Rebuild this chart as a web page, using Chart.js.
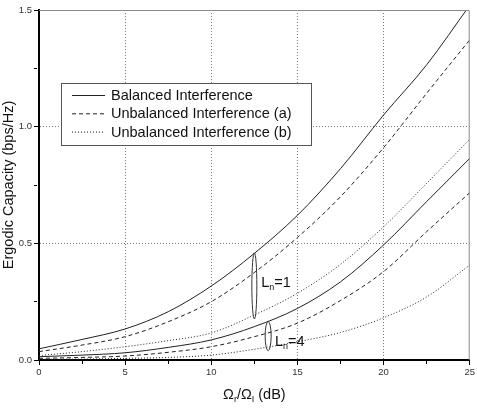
<!DOCTYPE html>
<html>
<head>
<meta charset="utf-8">
<script src="https://cdn.jsdelivr.net/npm/chart.js@4.4.1/dist/chart.umd.min.js"></script>
<style>
  html, body { margin: 0; padding: 0; background: #fff; }
  #wrap { width: 477px; height: 408px; }
</style>
</head>
<body>
<div id="wrap"><canvas id="capacityChart" width="477" height="408"></canvas></div>
<script>
// Omega_r / Omega_I in dB
const snrDb = [0, 2.5, 5, 7.5, 10, 12.5, 15, 17.5, 20, 22.5, 25];

// L_n = 1
const balancedL1   = [0.048, 0.088, 0.133, 0.207, 0.317, 0.457, 0.620, 0.820, 1.050, 1.265, 1.520];
const unbalancedAL1 = [0.036, 0.064, 0.100, 0.164, 0.250, 0.375, 0.525, 0.700, 0.910, 1.143, 1.372];
const unbalancedBL1 = [0.019, 0.036, 0.057, 0.083, 0.116, 0.193, 0.286, 0.410, 0.571, 0.757, 0.946];

// L_n = 4
const balancedL4   = [0.014, 0.021, 0.031, 0.054, 0.086, 0.143, 0.221, 0.335, 0.493, 0.679, 0.864];
const unbalancedAL4 = [0.007, 0.011, 0.017, 0.033, 0.057, 0.100, 0.158, 0.255, 0.379, 0.550, 0.717];
const unbalancedBL4 = [0.003, 0.004, 0.007, 0.011, 0.021, 0.046, 0.078, 0.118, 0.181, 0.270, 0.407];

const legendLabels = ['Balanced Interference', 'Unbalanced Interference (a)', 'Unbalanced Interference (b)'];
const xMajorStep = 5;
const yMajorStep = 0.5;

const fontFamily = 'Arial, "Liberation Sans", Helvetica, sans-serif';
const ink = '#222';
const dashes = [[], [4, 3], [1, 2]];

// brackets marking each L_n group (data units)
const groups = [
    { n: '1', x: 12.5, yLow: 0.176, yHigh: 0.459, rx: 2.5, textX: 12.9, textY: 0.331 },
    { n: '4', x: 13.3, yLow: 0.040, yHigh: 0.165, rx: 3, textX: 13.7, textY: 0.078 }
];

const toPoints = ys => ys.map((v, i) => ({ x: snrDb[i], y: v }));

function series(label, ys, style) {
    return {
        label: label,
        data: toPoints(ys),
        borderColor: ink,
        borderWidth: 1,
        borderDash: dashes[style],
        pointRadius: 0,
        fill: false,
        cubicInterpolationMode: 'monotone'
    };
}

const isMajor = (v, step) => Math.abs(v / step - Math.round(v / step)) < 1e-6;

function drawRich(ctx, parts, x, y, size, align) {
    const big = size + 'px ' + fontFamily;
    const small = Math.round(size * 0.62) + 'px ' + fontFamily;
    let w = 0;
    parts.forEach(p => { ctx.font = p.sub ? small : big; w += ctx.measureText(p.t).width; });
    let cx = align === 'center' ? x - w / 2 : x;
    ctx.textBaseline = 'middle';
    ctx.textAlign = 'left';
    parts.forEach(p => {
        ctx.font = p.sub ? small : big;
        ctx.fillText(p.t, cx, p.sub ? y + size * 0.3 : y);
        cx += ctx.measureText(p.t).width;
    });
}

const decor = {
    id: 'decor',
    afterDatasetsDraw(chart) {
        const { ctx, chartArea: a, scales: { x, y } } = chart;
        ctx.save();

        // top and right frame
        ctx.strokeStyle = '#8a8a8a';
        ctx.lineWidth = 1;
        ctx.setLineDash([]);
        ctx.beginPath();
        ctx.moveTo(a.left, a.top + 0.5);
        ctx.lineTo(a.right - 0.5, a.top + 0.5);
        ctx.lineTo(a.right - 0.5, a.bottom);
        ctx.stroke();

        // group brackets
        ctx.strokeStyle = '#333';
        ctx.fillStyle = '#111';
        groups.forEach(g => {
            const cx = x.getPixelForValue(g.x);
            const top = y.getPixelForValue(g.yHigh);
            const bot = y.getPixelForValue(g.yLow);
            ctx.beginPath();
            ctx.ellipse(cx, (top + bot) / 2, g.rx, (bot - top) / 2, 0, 0, Math.PI * 2);
            ctx.stroke();
            drawRich(ctx, [{ t: 'L' }, { t: 'n', sub: true }, { t: '=' + g.n }],
                x.getPixelForValue(g.textX), y.getPixelForValue(g.textY), 14.5, 'left');
        });

        // legend box
        const lx = a.left + 22, ly = a.top + 73, lw = 250, lh = 62;
        ctx.fillStyle = '#fff';
        ctx.fillRect(lx, ly, lw, lh);
        ctx.strokeStyle = '#555';
        ctx.strokeRect(lx + 0.5, ly + 0.5, lw, lh);
        legendLabels.forEach((lab, i) => {
            const ry = ly + 12 + i * 18.3;
            ctx.strokeStyle = ink;
            ctx.setLineDash(dashes[i]);
            ctx.beginPath();
            ctx.moveTo(lx + 11, ry + 0.5);
            ctx.lineTo(lx + 44, ry + 0.5);
            ctx.stroke();
            ctx.setLineDash([]);
            ctx.fillStyle = '#111';
            ctx.font = '14.5px ' + fontFamily;
            ctx.textAlign = 'left';
            ctx.textBaseline = 'middle';
            ctx.fillText(lab, lx + 50, ry + 1);
        });
        ctx.restore();
    },
    afterDraw(chart) {
        const { ctx, chartArea: a } = chart;
        ctx.save();
        ctx.fillStyle = '#111';
        drawRich(ctx, [{ t: 'Ω' }, { t: 'r', sub: true }, { t: '/Ω' }, { t: 'I', sub: true }, { t: ' (dB)' }],
            (a.left + a.right) / 2, 395, 14.5, 'center');
        ctx.restore();
    }
};

new Chart(document.getElementById('capacityChart').getContext('2d'), {
    type: 'line',
    data: {
        datasets: [
            series(legendLabels[0], balancedL1, 0),
            series(legendLabels[1], unbalancedAL1, 1),
            series(legendLabels[2], unbalancedBL1, 2),
            series(legendLabels[0], balancedL4, 0),
            series(legendLabels[1], unbalancedAL4, 1),
            series(legendLabels[2], unbalancedBL4, 2)
        ]
    },
    options: {
        responsive: false,
        animation: false,
        devicePixelRatio: 1,
        layout: { padding: { top: 10, right: 6, left: 0, bottom: 0 } },
        plugins: {
            legend: { display: false },
            tooltip: { enabled: false }
        },
        scales: {
            x: {
                type: 'linear',
                min: 0,
                max: 25,
                afterFit: s => { s.height = 48; },
                ticks: {
                    stepSize: 2.5,
                    autoSkip: false,
                    maxRotation: 0,
                    padding: 2,
                    color: '#333',
                    font: { family: fontFamily, size: 9.5 },
                    callback: v => isMajor(v, xMajorStep) ? String(v) : ''
                },
                grid: {
                    color: c => (c.tick && isMajor(c.tick.value, xMajorStep) && c.tick.value > 0 && c.tick.value < 25) ? '#7a7a7a' : 'rgba(0,0,0,0)',
                    lineWidth: 1,
                    tickColor: '#000',
                    tickLength: 5,
                    tickWidth: 1,
                    tickBorderDash: c => (c.tick && isMajor(c.tick.value, xMajorStep)) ? [] : [3, 20]
                },
                border: { display: true, color: '#000', width: 2, dash: [1, 2] }
            },
            y: {
                type: 'linear',
                min: 0,
                max: 1.5,
                afterFit: s => { s.width = 39; },
                title: {
                    display: true,
                    text: 'Ergodic Capacity (bps/Hz)',
                    color: '#111',
                    padding: { top: 0, bottom: 0 },
                    font: { family: fontFamily, size: 14.5 }
                },
                ticks: {
                    stepSize: 0.25,
                    autoSkip: false,
                    padding: 2,
                    color: '#333',
                    font: { family: fontFamily, size: 9.5 },
                    callback: v => isMajor(v, yMajorStep) ? v.toFixed(1) : ''
                },
                grid: {
                    color: c => (c.tick && isMajor(c.tick.value, yMajorStep) && c.tick.value > 0 && c.tick.value < 1.5) ? '#7a7a7a' : 'rgba(0,0,0,0)',
                    lineWidth: 1,
                    tickColor: '#000',
                    tickLength: 5,
                    tickWidth: 1,
                    tickBorderDash: c => (c.tick && isMajor(c.tick.value, yMajorStep)) ? [] : [3, 20]
                },
                border: { display: true, color: '#000', width: 2, dash: [1, 2] }
            }
        }
    },
    plugins: [decor]
});
</script>
</body>
</html>
